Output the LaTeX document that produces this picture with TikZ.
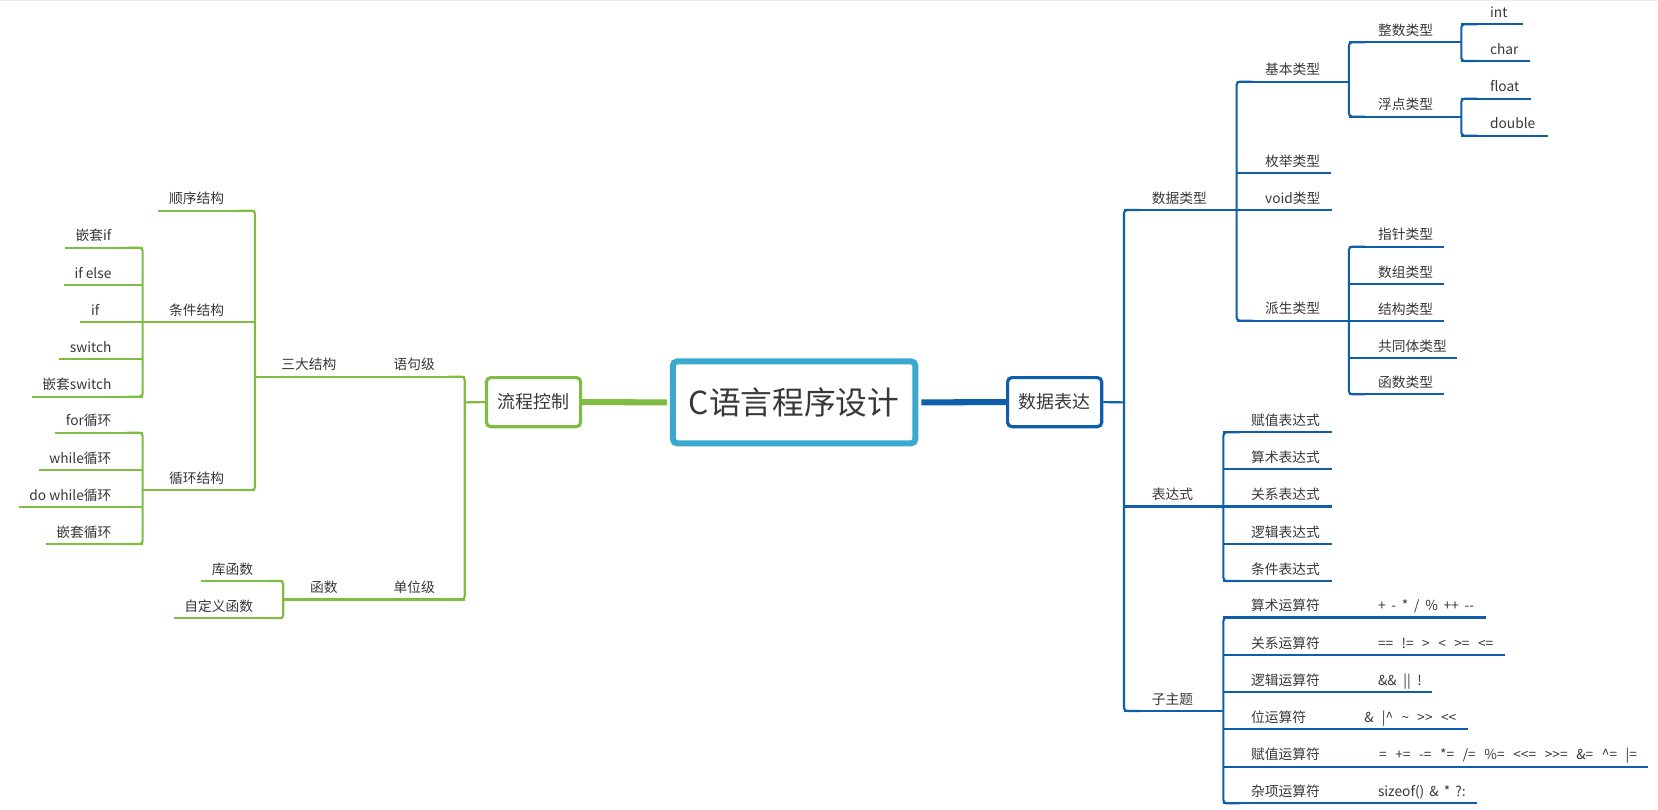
\documentclass[tikz,border=0pt]{standalone}
\usepackage{fontspec}
\setmainfont{Noto Sans CJK SC}[Ligatures=TeXOff]
\definecolor{gr}{HTML}{7EBC42}
\definecolor{bl}{HTML}{0F5EA9}
\definecolor{cy}{HTML}{3BA8CF}
\definecolor{tx}{HTML}{383838}
\newcommand{\LeafL}[5]{%
  \coordinate (#1j) at (#4,#3);
  \node[labL] (#1) at (#2,#3-6.5) {#5};
  \draw[gline] ([xshift=-10pt,yshift=-6.5pt]#1.base west) -- (#1j);}
\newcommand{\LeafR}[6]{%
  \coordinate (#1j) at (#4,#3);
  \coordinate (#1e) at (#5,#3);
  \node[labR] (#1) at (#2,#3-6.5) {#6};
  \draw[bline] (#1j) -- (#1e);}
\newcommand{\TrunkL}[4]{%
  \coordinate (#1t) at (#2,#3); \coordinate (#1b) at (#2,#4);
  \draw[gline] ([xshift=-15pt]#1t) -- (#1t) -- (#1b) -- ([xshift=-15pt]#1b);}
\newcommand{\TrunkR}[4]{%
  \coordinate (#1t) at (#2,#3); \coordinate (#1b) at (#2,#4);
  \draw[bline] ([xshift=15pt]#1t) -- (#1t) -- (#1b) -- ([xshift=15pt]#1b);}
\begin{document}
\begin{tikzpicture}[x=1pt,y=-1pt,
  lab/.style={font=\fontsize{13}{15}\selectfont, text=tx, inner sep=0pt},
  labL/.style={lab, anchor=base east},
  labR/.style={lab, anchor=base west},
  gline/.style={draw=gr, line width=2pt, rounded corners=3pt},
  bline/.style={draw=bl, line width=2pt, rounded corners=3pt},
  box/.style={line width=3pt, rounded corners=4pt, minimum width=89pt, minimum height=46.4pt,
    inner sep=0pt, fill=white, font=\fontsize{17}{20}\selectfont, text=tx}]
\fill[white] (0,0) rectangle (1568,765.1);
\useasboundingbox (0,0) rectangle (1568,765.1);
\draw[black!8, line width=1pt] (0,0.5) -- (1568,0.5);

% ---------- main nodes ----------
\node[draw=cy, line width=5.7pt, rounded corners=4pt, minimum width=229.2pt, minimum height=77.5pt,
  inner sep=0pt, font=\fontsize{30}{34}\selectfont, text=tx] (root) at (751,380.5) {C语言程序设计};
\node[box, draw=gr] (flow) at (504.6,380.3) {流程控制};
\node[box, draw=bl] (data) at (997.4,380.3) {数据表达};
\draw[gr, line width=5.7pt] (flow.east) -- ([xshift=-2.8pt]root.west);
\draw[bl, line width=5.7pt] ([xshift=2.8pt]root.east) -- (data.west);

% ---------- left tree ----------
\TrunkL{T1}{439.5}{356.2}{567}
\coordinate (T1m) at (439.5,380.5);
\draw[gline] (flow.west) -- (T1m);
\node[labL] (yuju) at (411.4,349.7) {语句级};
\node[labL] (sanda) at (318.4,349.7) {三大结构};
\TrunkL{T2}{241.2}{199.2}{463.4}
\coordinate (T2m) at (241.2,356.2);
\draw[gline] (T2m) -- (T1t);
\LeafL{shunxu}{212.2}{199.2}{241.2}{顺序结构}
\node[labL] (tiaojian) at (212.2,298) {条件结构};
\node[labL] (xunhuan) at (212.2,456.9) {循环结构};
\TrunkL{T3a}{134.9}{234.2}{375.1}
\TrunkL{T3b}{134.9}{409.2}{514.5}
\coordinate (T3am) at (134.9,304.5);
\coordinate (T2c) at (241.2,304.5);
\draw[gline] (T3am) -- (T2c);
\coordinate (T3bm) at (134.9,463.4);
\draw[gline] (T3bm) -- (T2b);
\LeafL{la}{105.6}{234.2}{134.9}{嵌套if}
\LeafL{lb}{105.6}{269.5}{134.9}{if else}
\node[lab, anchor=base] (lc) at (90,298) {if};
\coordinate (lcj) at (134.9,304.5);
\draw[gline] ([xshift=-10pt,yshift=-6.5pt]lc.base west) -- (lcj);
\LeafL{ld}{105.6}{339.8}{134.9}{switch}
\LeafL{le}{105.6}{375.1}{134.9}{嵌套switch}
\LeafL{lf}{105.6}{409.2}{134.9}{for循环}
\LeafL{lg}{105.6}{444.5}{134.9}{while循环}
\LeafL{lh}{105.6}{479.5}{134.9}{do while循环}
\LeafL{li}{105.6}{514.5}{134.9}{嵌套循环}
\node[labL] (danwei) at (411.4,560.5) {单位级};
\node[labL] (hanshu) at (319.6,560.5) {函数};
\TrunkL{T4}{267.9}{549.5}{584.6}
\coordinate (T4m) at (267.9,567);
\draw[gline] (T4m) -- (T1b);
\LeafL{ka}{239.6}{549.5}{267.9}{库函数}
\LeafL{kb}{239.6}{584.6}{267.9}{自定义函数}

% ---------- right tree ----------
\TrunkR{R1}{1063}{198.6}{672.4}
\coordinate (R1m) at (1063,380.5);
\draw[bline] (data.east) -- (R1m);
\node[labR] (sjlx) at (1089.1,192.1) {数据类型};
\coordinate (R2m) at (1169.5,198.6);
\draw[bline] (R1t) -- (R2m);
\TrunkR{R2}{1169.5}{77.2}{303.3}
\node[labR] (jblx) at (1196.3,70.7) {基本类型};
\coordinate (R3am) at (1275.7,77.2);
\draw[bline] (R2t) -- (R3am);
\TrunkR{R3a}{1275.7}{40}{110.3}
\node[labR] (zslx) at (1303,33.5) {整数类型};
\coordinate (R4am) at (1382,40);
\draw[bline] (R3at) -- (R4am);
\TrunkR{R4a}{1382}{23}{57.7}
\LeafR{tint}{1409}{23}{1382}{1440}{int}
\LeafR{tchar}{1409}{57.7}{1382}{1447}{char}
\node[labR] (fdlx) at (1303,103.8) {浮点类型};
\coordinate (R4bm) at (1382,110.3);
\draw[bline] (R3ab) -- (R4bm);
\TrunkR{R4b}{1382}{93.3}{128.3}
\LeafR{tflt}{1409}{93.3}{1382}{1448}{float}
\LeafR{tdbl}{1409}{128.3}{1382}{1463.5}{double}
\LeafR{mj}{1196.3}{164}{1169.5}{1259}{枚举类型}
\LeafR{vd}{1196.3}{199}{1169.5}{1260}{void类型}
\node[labR] (pslx) at (1196.3,296.8) {派生类型};
\coordinate (R3bm) at (1275.7,303.3);
\draw[bline] (R2b) -- (R3bm);
\TrunkR{R3b}{1275.7}{233.3}{372.9}
\LeafR{zz}{1303}{233.3}{1275.7}{1365.5}{指针类型}
\LeafR{sz}{1303}{268.6}{1275.7}{1365.5}{数组类型}
\LeafR{jg}{1303}{303.6}{1275.7}{1365.5}{结构类型}
\LeafR{gt}{1303}{338.9}{1275.7}{1378}{共同体类型}
\LeafR{hs}{1303}{372.9}{1275.7}{1365.5}{函数类型}

\node[labR] (bds) at (1089.1,472.5) {表达式};
\coordinate (R1e) at (1063,479);
\coordinate (R5m) at (1157,479);
\draw[bline] (R1e) -- (R5m);
\TrunkR{R5}{1157}{408.8}{549.5}
\LeafR{ea}{1183}{408.8}{1157}{1259.3}{赋值表达式}
\LeafR{eb}{1183}{443.8}{1157}{1259.3}{算术表达式}
\LeafR{ec}{1183}{479}{1157}{1259.3}{关系表达式}
\LeafR{ed}{1183}{514.4}{1157}{1259.3}{逻辑表达式}
\LeafR{ee}{1183}{549.5}{1157}{1259.3}{条件表达式}

\node[labR] (zzt) at (1089.1,665.9) {子主题};
\coordinate (R6m) at (1157,672.4);
\draw[bline] (R1b) -- (R6m);
\TrunkR{R6}{1157}{584}{759.7}
\LeafR{oa}{1183}{584}{1157}{1405}{算术运算符}
\LeafR{ob}{1183}{619.4}{1157}{1423}{关系运算符}
\LeafR{oc}{1183}{654.7}{1157}{1354.5}{逻辑运算符}
\LeafR{od}{1183}{689.7}{1157}{1388.5}{位运算符}
\LeafR{oe}{1183}{725}{1157}{1558.6}{赋值运算符}
\LeafR{of}{1183}{759.7}{1157}{1396.4}{杂项运算符}
\node[labR] (va) at (1303,577.5) {\makebox[91pt][s]{+ - * / \% ++ --}};
\node[labR] (vb) at (1303,612.9) {\makebox[109pt][s]{== != > < >= <=}};
\node[labR] (vc) at (1303,648.2) {\makebox[41.5pt][s]{\&\& || !}};
\node[labR] (vd2) at (1290,683.2) {\makebox[87pt][s]{\& |\textasciicircum{} \textasciitilde{} >> <<}};
\node[labR] (ve) at (1304,718.5) {\makebox[244pt][s]{= += -= *= /= \%= <<= >>= \&= \textasciicircum= |=}};
\node[labR] (vf) at (1303,753.2) {\makebox[83pt][s]{sizeof() \& * ?:}};
\end{tikzpicture}
\end{document}
